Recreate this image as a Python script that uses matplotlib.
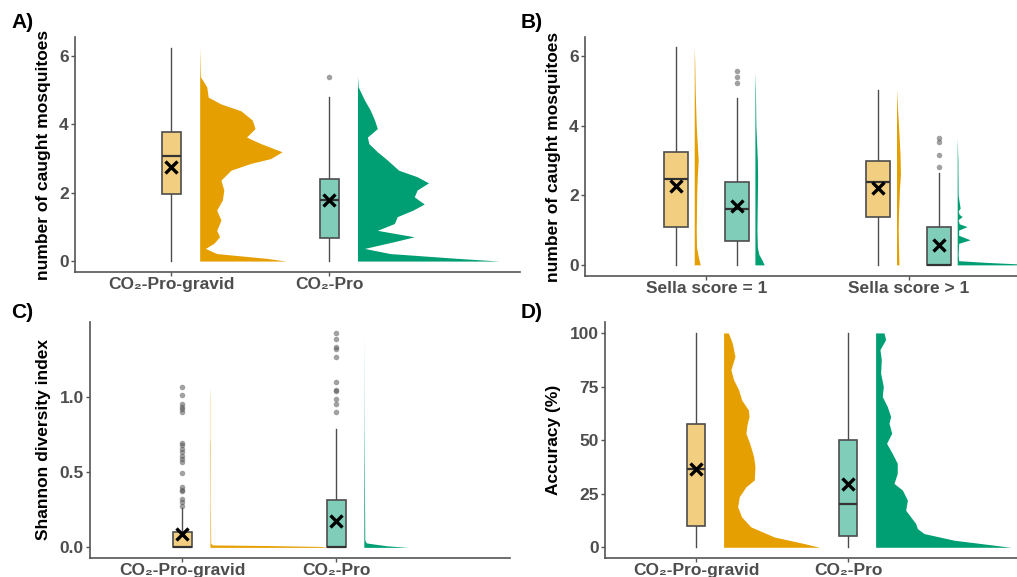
import numpy as np
import matplotlib
matplotlib.use("Agg")
import matplotlib.pyplot as plt
from matplotlib.transforms import blended_transform_factory

plt.rcParams['font.family'] = ['Liberation Sans', 'DejaVu Sans']
plt.rcParams['font.weight'] = 'bold'

ORANGE = '#E69F00'
GREEN = '#009E73'
ORANGE_L = '#F2CF80'
GREEN_L = '#80CEB9'
TXT = '#4D4D4D'

# ---------------- data ----------------
# panel A : trap type
a_cats = ["CO\u2082-Pro-gravid", "CO\u2082-Pro"]
a_box = [  # whislo, q1, med, q3, whishi, mean
    [0.0, 1.95, 3.09, 3.78, 6.25, 2.76],
    [0.0, 0.69, 1.79, 2.39, 4.81, 1.79],
]
a_fliers = [[], [5.40]]
a_dens_y1 = [6.27, 5.4, 5.1, 4.8, 4.6, 4.4, 4.13, 3.88, 3.63, 3.44, 3.2, 3.0, 2.86, 2.66,
             2.37, 2.08, 1.79, 1.49, 1.2, 0.9, 0.71, 0.52, 0.37, 0.22, 0.08, 0.0]
a_dens_w1 = [0, .005, .05, .06, .15, .29, .37, .39, .33, .43, .58, .50, .36, .22,
             .15, .17, .16, .12, .15, .12, .14, .10, .04, .12, .47, .61]
a_dens_y2 = [5.4, 5.1, 4.71, 4.42, 4.13, 3.88, 3.63, 3.44, 3.2, 2.96, 2.66, 2.47, 2.29,
             2.08, 1.88, 1.67, 1.49, 1.3, 1.1, 0.9, 0.71, 0.57, 0.37, 0.22, 0.08, 0.0]
a_dens_w2 = [0, .005, .05, .09, .12, .14, .07, .08, .14, .21, .29, .42, .50,
             .42, .40, .47, .39, .28, .26, .14, .40, .26, .05, .23, .70, 1.0]

# panel B : Sella score, two traps per group
b_cats = ["Sella score = 1", "Sella score > 1"]
b_box = [
    [0.0, 1.09, 2.47, 3.25, 6.25, 2.28],   # score=1, gravid
    [0.0, 0.70, 1.60, 2.39, 4.80, 1.70],   # score=1, pro
    [0.0, 1.38, 2.39, 2.99, 5.04, 2.20],   # score>1, gravid
    [0.0, 0.0, 0.0, 1.09, 2.63, 0.57],     # score>1, pro
]
b_fliers = [[], [5.22, 5.39, 5.57], [], [2.82, 3.15, 3.54, 3.64]]
b_dens_y = [
    [6.3, 5.8, 5.0, 4.0, 3.5, 3.0, 2.5, 2.0, 1.0, 0.5, 0.25, 0.0],
    [5.55, 5.0, 4.0, 3.0, 2.5, 2.0, 1.0, 0.5, 0.3, 0.15, 0.0],
    [5.05, 4.5, 4.0, 3.2, 2.6, 2.2, 1.5, 1.0, 0.5, 0.0],
    [3.65, 3.0, 2.0, 1.8, 1.63, 1.55, 1.45, 1.39, 1.3, 1.18, 1.10, 1.0, 0.85,
     0.72, 0.62, 0.3, 0.12, 0.07, 0.03, 0.0],
]
b_dens_w = [
    [0, .007, .013, .027, .04, .053, .04, .033, .027, .031, .053, .08],
    [0, .007, .013, .033, .036, .033, .027, .033, .053, .093, .124],
    [0, .013, .027, .047, .053, .04, .027, .023, .027, .033],
    [0, .009, .013, .027, .04, .013, .027, .067, .013, .027, .133, .02, .02,
     .173, .02, .013, .02, .4, .8, 1.0],
]

# panel C : Shannon diversity
c_cats = ["CO\u2082-Pro-gravid", "CO\u2082-Pro"]
c_box = [
    [0.0, 0.0, 0.0, 0.105, 0.26, 0.09],
    [0.0, 0.0, 0.0, 0.318, 0.79, 0.174],
]
c_fliers = [
    [1.07, 1.016, 0.953, 0.938, 0.92, 0.904, 0.693, 0.68, 0.655, 0.637, 0.61, 0.592,
     0.57, 0.497, 0.403, 0.385, 0.374, 0.32, 0.30, 0.275],
    [1.432, 1.39, 1.334, 1.323, 1.267, 1.10, 1.049, 1.042, 0.987, 0.953, 0.90],
]
c_dens_y1 = [1.07, 1.0, 0.72, 0.7, 0.3, 0.03, 0.016, 0.012, 0.006, 0.0]
c_dens_w1 = [0, .002, .002, .004, .003, .006, .02, .5, .95, 1.0]
c_dens_y2 = [1.42, 0.8, 0.05, 0.03, 0.025, 0.01, 0.0]
c_dens_w2 = [0, .002, .008, .02, .06, .2, .38]

# panel D : accuracy
d_cats = ["CO\u2082-Pro-gravid", "CO\u2082-Pro"]
d_box = [
    [0.0, 10.1, 36.5, 57.3, 100.0, 36.5],
    [0.0, 5.1, 20.3, 50.1, 100.0, 29.5],
]
d_fliers = [[], []]
d_dens_y1 = [100, 95.3, 89, 82.8, 78.2, 73.5, 68.8, 64.1, 61, 57.1, 53.2, 48.5, 42.3,
             37.6, 31.4, 28.2, 23.6, 18.9, 14.2, 9.5, 4.8, 1.7, 0]
d_dens_w1 = [.035, .064, .084, .054, .074, .111, .133, .183, .188, .173, .165, .193, .222,
             .232, .227, .165, .116, .104, .133, .202, .375, .598, .709]
d_dens_y2 = [100, 96.9, 92.2, 87.5, 81.3, 75, 70.4, 65.7, 61, 57.9, 53.2, 48.5, 43.8,
             39.2, 34.5, 29.8, 26.7, 22, 17.3, 14.2, 11.1, 8.7, 6.4, 3.3, 0]
d_dens_w2 = [.062, .074, .032, .042, .037, .057, .049, .086, .111, .099, .119, .081, .123,
             .160, .160, .136, .198, .235, .222, .259, .296, .309, .358, .580, 1.0]

# ---------------- drawing ----------------
W, H = 1017, 577
fig = plt.figure(figsize=(W / 100, H / 100), dpi=100)


def make_ax(left, right, top, bottom):
    return fig.add_axes([left / W, 1 - bottom / H, (right - left) / W, (bottom - top) / H])


def style(ax, ylabel, label_x):
    for s in ['top', 'right']:
        ax.spines[s].set_visible(False)
    for s in ['left', 'bottom']:
        ax.spines[s].set_color('#555555')
        ax.spines[s].set_linewidth(1.2)
    ax.tick_params(axis='both', colors='#555555', length=3, width=1, labelsize=12.5,
                   labelcolor=TXT)
    ax.tick_params(axis='x', pad=0.5, labelsize=12.5)
    ax.tick_params(axis='y', pad=1.5)
    for t in ax.get_xticklabels() + ax.get_yticklabels():
        t.set_fontweight('bold')
    ax.set_ylabel(ylabel, fontsize=12.5, fontweight='bold', color='black')
    ax.yaxis.set_label_coords(label_x / W, 0.5,
                              transform=blended_transform_factory(fig.transFigure, ax.transAxes))


def boxes(ax, pos, stats, fliers, fills, width):
    st = []
    for s, f in zip(stats, fliers):
        st.append(dict(whislo=s[0], q1=s[1], med=s[2], q3=s[3], whishi=s[4], mean=s[5],
                       fliers=f))
    b = ax.bxp(st, positions=pos, widths=width, patch_artist=True, showcaps=False,
               showmeans=True, manage_ticks=False,
               boxprops=dict(edgecolor='#4D4D4D', linewidth=1.2),
               whiskerprops=dict(color='#4D4D4D', linewidth=1.0),
               medianprops=dict(color='#333333', linewidth=1.6),
               meanprops=dict(marker='x', markeredgecolor='black', markersize=8.5,
                              markeredgewidth=2.4),
               flierprops=dict(marker='o', markerfacecolor='#555555', markeredgecolor='none',
                               markersize=4, alpha=0.55))
    for patch, c in zip(b['boxes'], fills):
        patch.set_facecolor(c)
    for w in b['whiskers']:
        w.set_zorder(1)


def violin(ax, base, ys, ws, scale, color):
    ys = np.asarray(ys, float)
    ws = np.asarray(ws, float) * scale
    ax.fill_betweenx(ys, base, base + ws, color=color, linewidth=0, zorder=2)


# panel A
axA = make_ax(75, 520, 37, 272)
pos = [1, 2]
boxes(axA, pos, a_box, a_fliers, [ORANGE_L, GREEN_L], 0.12)
violin(axA, 1.18, a_dens_y1, a_dens_w1, 0.90, ORANGE)
violin(axA, 2.18, a_dens_y2, a_dens_w2, 0.90, GREEN)
axA.set_xlim(0.39, 3.21)
axA.set_ylim(-0.32, 6.56)
axA.set_yticks([0, 2, 4, 6])
axA.set_xticks(pos)
axA.set_xticklabels(a_cats)
style(axA, "number of caught mosquitoes", 51)

# panel B
axB = make_ax(585, 1030, 37, 276)
bpos = [0.85, 1.15, 1.85, 2.15]
boxes(axB, bpos, b_box, b_fliers, [ORANGE_L, GREEN_L, ORANGE_L, GREEN_L], 0.12)
for p, ys, ws, c in zip(bpos, b_dens_y, b_dens_w, [ORANGE, GREEN, ORANGE, GREEN]):
    violin(axB, p + 0.09, ys, ws, 0.37, c)
axB.set_xlim(0.40, 2.60)
axB.set_ylim(-0.32, 6.55)
axB.set_yticks([0, 2, 4, 6])
axB.set_xticks([1, 2])
axB.set_xticklabels(b_cats)
style(axB, "number of caught mosquitoes", 561)

# panel C
axC = make_ax(90, 510, 322, 558)
boxes(axC, pos, c_box, c_fliers, [ORANGE_L, GREEN_L], 0.125)
violin(axC, 1.18, c_dens_y1, c_dens_w1, 0.76, ORANGE)
violin(axC, 2.18, c_dens_y2, c_dens_w2, 0.76, GREEN)
axC.set_xlim(0.40, 3.13)
axC.set_ylim(-0.071, 1.503)
axC.set_yticks([0, 0.5, 1.0])
axC.set_yticklabels(["0.0", "0.5", "1.0"])
axC.set_xticks(pos)
axC.set_xticklabels(c_cats)
style(axC, "Shannon diversity index", 51)

# panel D
axD = make_ax(605, 1017, 322, 558)
boxes(axD, pos, d_box, d_fliers, [ORANGE_L, GREEN_L], 0.12)
violin(axD, 1.18, d_dens_y1, d_dens_w1, 0.89, ORANGE)
violin(axD, 2.18, d_dens_y2, d_dens_w2, 0.89, GREEN)
axD.set_xlim(0.40, 3.11)
axD.set_ylim(-5.0, 105.1)
axD.set_yticks([0, 25, 50, 75, 100])
axD.set_xticks(pos)
axD.set_xticklabels(d_cats)
style(axD, "Accuracy (%)", 561)

for lab, x, y in [("A)", 11, 13), ("B)", 521, 13), ("C)", 11, 303), ("D)", 521, 303)]:
    fig.text(x / W, 1 - y / H, lab, fontsize=15, fontweight='bold', va='top', ha='left')

fig.savefig("out.png", dpi=100)
